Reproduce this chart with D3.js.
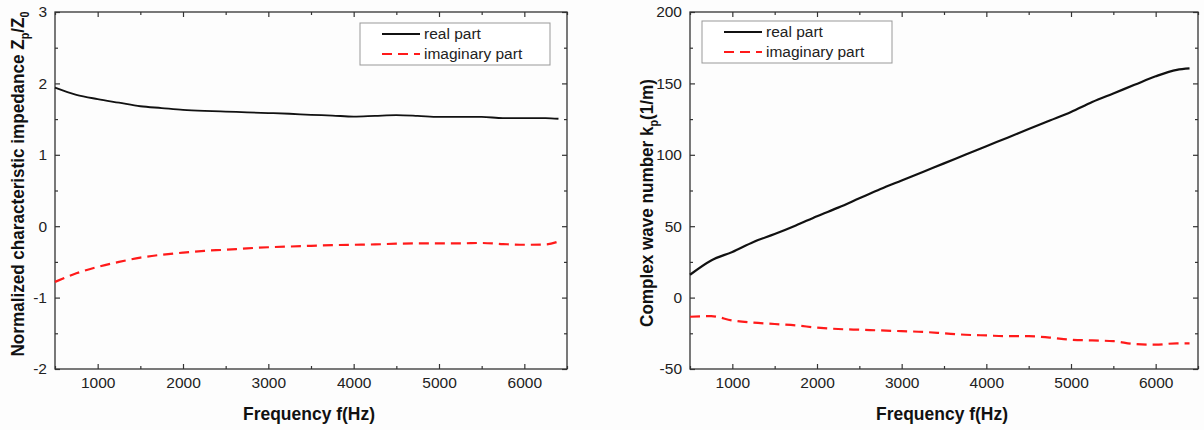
<!DOCTYPE html>
<html>
<head>
<meta charset="utf-8">
<script src="https://cdn.jsdelivr.net/npm/d3@7"></script>
<style>
  body { margin: 0; background: #fdfdfd; }
  svg { display: block; font-family: "Liberation Sans", Arial, sans-serif; }
</style>
</head>
<body>
<div id="chart"></div>
<script>
// frequency samples (Hz) shared by all curves
const freqs = [500, 750, 1000, 1250, 1500, 1750, 2000, 2250, 2500, 2750, 3000, 3250, 3500,
               3750, 4000, 4250, 4500, 4750, 5000, 5250, 5500, 5750, 6000, 6250, 6400];

// normalized characteristic impedance Zp/Z0
const zReal = [1.94, 1.84, 1.78, 1.73, 1.68, 1.655, 1.63, 1.615, 1.605, 1.595, 1.585, 1.575, 1.56,
               1.55, 1.535, 1.545, 1.555, 1.545, 1.53, 1.53, 1.53, 1.515, 1.515, 1.515, 1.505];
const zImag = [-0.78, -0.66, -0.57, -0.5, -0.44, -0.4, -0.37, -0.345, -0.33, -0.31, -0.295, -0.285, -0.275,
               -0.265, -0.26, -0.255, -0.245, -0.24, -0.24, -0.24, -0.235, -0.25, -0.26, -0.255, -0.215];

// complex wave number kp (1/m)
const kReal = [16, 26, 32, 39, 44.5, 50.5, 57, 63, 69.5, 76, 82, 88, 94,
               100, 106, 112, 118, 124, 130, 137, 143, 149, 155, 159.5, 160.5];
const kImag = [-13.4, -13, -16, -17.5, -18.5, -19.5, -21, -22, -22.5, -23, -23.5, -24, -25,
               -26, -26.5, -27, -27, -28, -29.5, -30, -30.5, -32.5, -33, -32, -32];

const xTicks = [1000, 2000, 3000, 4000, 5000, 6000];
const xMinor = [500, 1500, 2500, 3500, 4500, 5500, 6500];
const zTicks = [-2, -1, 0, 1, 2, 3];
const zMinor = [-1.5, -0.5, 0.5, 1.5, 2.5];
const kTicks = [-50, 0, 50, 100, 150, 200];
const kMinor = [-25, 25, 75, 125, 175];
const legendNames = ["real part", "imaginary part"];

const w = 1204, h = 430;
const svg = d3.select("#chart").append("svg").attr("width", w).attr("height", h);

function panel(opt) {
  const x = d3.scaleLinear().domain([500, 6500]).range([opt.left, opt.right]);
  const y = d3.scaleLinear().domain(opt.yDomain).range([369, 12]);
  const g = svg.append("g");

  // inward ticks on all four sides
  function ticks(axisFn, scale, vals, size, pos, labels) {
    const a = axisFn(scale).tickValues(vals).tickSizeInner(-size).tickSizeOuter(0)
      .tickPadding(8).tickFormat(labels ? (d => String(d)) : "");
    const t = g.append("g").attr("transform", pos).call(a);
    t.select(".domain").remove();
    t.selectAll("line").attr("stroke", "#333").attr("stroke-width", 1.2);
    t.selectAll("text").attr("font-size", 15.5).attr("fill", "#222");
    return t;
  }
  ticks(d3.axisBottom, x, xTicks, 5, `translate(0,${y.range()[0]})`, true);
  ticks(d3.axisBottom, x, xMinor, 3, `translate(0,${y.range()[0]})`, false);
  ticks(d3.axisTop, x, xTicks, 5, `translate(0,${y.range()[1]})`, false);
  ticks(d3.axisTop, x, xMinor, 3, `translate(0,${y.range()[1]})`, false);
  ticks(d3.axisLeft, y, opt.yTicks, 5, `translate(${opt.left},0)`, true);
  ticks(d3.axisLeft, y, opt.yMinor, 3, `translate(${opt.left},0)`, false);
  ticks(d3.axisRight, y, opt.yTicks, 5, `translate(${opt.right},0)`, false);
  ticks(d3.axisRight, y, opt.yMinor, 3, `translate(${opt.right},0)`, false);

  g.append("rect")
    .attr("x", opt.left).attr("y", 12)
    .attr("width", opt.right - opt.left).attr("height", 357)
    .attr("fill", "none").attr("stroke", "#333").attr("stroke-width", 1.3);

  const line = d3.line().x((d, i) => x(freqs[i])).y(d => y(d)).curve(d3.curveMonotoneX);
  g.append("path").datum(opt.real).attr("d", line)
    .attr("fill", "none").attr("stroke", "#111").attr("stroke-width", opt.realWidth);
  g.append("path").datum(opt.imag).attr("d", line)
    .attr("fill", "none").attr("stroke", "#ff1a1a").attr("stroke-width", 2.2)
    .attr("stroke-dasharray", "10,6");

  // legend
  const lg = g.append("g").attr("transform", `translate(${opt.legend[0]},${opt.legend[1]})`);
  lg.append("rect").attr("width", 190).attr("height", 42)
    .attr("fill", "#fff").attr("stroke", "#999").attr("stroke-width", 1);
  legendNames.forEach((name, i) => {
    const yy = 11 + i * 20;
    lg.append("line").attr("x1", 22).attr("x2", 60).attr("y1", yy).attr("y2", yy)
      .attr("stroke", i ? "#ff1a1a" : "#111").attr("stroke-width", i ? 2.2 : opt.realWidth)
      .attr("stroke-dasharray", i ? "10,6" : null);
    lg.append("text").attr("x", 64).attr("y", yy + 5).attr("font-size", 15.5).attr("fill", "#222").text(name);
  });

  // axis titles (slightly condensed bold, like the original)
  g.append("text")
    .attr("transform", `translate(${(opt.left + opt.right) / 2 - 2},420) scale(0.92,1)`)
    .attr("text-anchor", "middle").attr("font-size", 19).attr("font-weight", "bold").attr("fill", "#111")
    .text("Frequency f(Hz)");
  const yl = g.append("text")
    .attr("transform", `translate(${opt.yLabelX},${opt.yLabelY}) rotate(-90) scale(0.9,1)`)
    .attr("text-anchor", "middle").attr("font-size", 19).attr("font-weight", "bold").attr("fill", "#111");
  opt.yLabel.forEach(p => {
    const t = yl.append("tspan").text(p[0]);
    if (p[1]) t.attr("font-size", 12).attr("dy", 5);
    else if (p[2]) t.attr("dy", -5);
  });
}

panel({
  left: 55, right: 567, yDomain: [-2, 3], yTicks: zTicks, yMinor: zMinor,
  real: zReal, imag: zImag, realWidth: 1.8, legend: [360, 23], yLabelX: 24, yLabelY: 184,
  yLabel: [["Normalized characteristic impedance Z"], ["p", true], ["/Z", false, true], ["0", true]]
});
panel({
  left: 690, right: 1198, yDomain: [-50, 200], yTicks: kTicks, yMinor: kMinor,
  real: kReal, imag: kImag, realWidth: 2.2, legend: [702, 21], yLabelX: 653, yLabelY: 203,
  yLabel: [["Complex wave number k"], ["p", true], ["(1/m)", false, true]]
});
</script>
</body>
</html>
